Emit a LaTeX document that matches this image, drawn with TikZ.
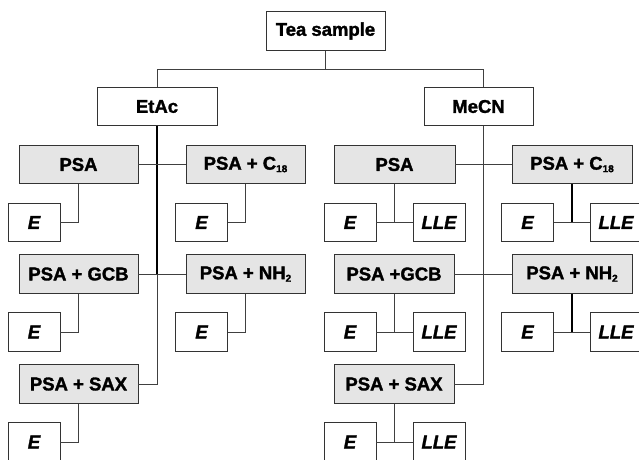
\documentclass[tikz,border=0pt]{standalone}
\usepackage{fontspec}
\setmainfont{Liberation Sans}[BoldFeatures={FakeBold=1.6},BoldItalicFeatures={FakeBold=1.6}]
\newcommand{\sbs}[1]{\raisebox{-2.5pt}{\fontsize{10}{10}\selectfont #1}}
\tikzset{
  base/.style={draw=black!80, line width=0.9pt, inner sep=0pt, minimum height=38.5pt,
    font=\bfseries\fontsize{18.5}{20}\selectfont},
  whitebox/.style={base, fill=white},
  greybox/.style={base, fill=black!10, minimum width=119pt},
  ebox/.style={base, fill=white, minimum width=52pt,
    font=\bfseries\itshape\fontsize{18.5}{20}\selectfont},
  link/.style={draw=black!75, line width=0.9pt},
  trunk/.style={draw=black, line width=1.5pt},
}
\begin{document}
\begin{tikzpicture}[x=1pt,y=-1pt]
\useasboundingbox (0,0) rectangle (639,459);
\clip (0,0) rectangle (639,459);
% top
\node[whitebox, minimum width=119pt] (tea) at (325.5,31) {Tea sample};
\node[whitebox, minimum width=120pt] (etac) at (157,106.5) {EtAc};
\node[whitebox, minimum width=109pt] (mecn) at (478.5,106.5) {MeCN};
\coordinate (jL) at (157,69);
\coordinate (jR) at (483,69);
% left branch
\node[greybox] (L1a) at (78.5,164.5) {PSA};
\node[greybox] (L1b) at (245.5,164.5) {PSA + C\sbs{18}};
\node[greybox] (L2a) at (78.5,274) {PSA + GCB};
\node[greybox] (L2b) at (245.5,274) {PSA + NH\sbs{2}};
\node[greybox] (L3) at (78.5,384) {PSA + SAX};
\node[ebox] (LE1a) at (34,222.5) {E};
\node[ebox] (LE1b) at (201.5,222.5) {E};
\node[ebox] (LE2a) at (34,332) {E};
\node[ebox] (LE2b) at (201.5,332) {E};
\node[ebox] (LE3) at (34,442) {E};
% right branch
\node[greybox, minimum width=121pt] (R1a) at (394.5,164.5) {PSA};
\node[greybox, minimum width=120pt] (R1b) at (572,164.5) {PSA + C\sbs{18}};
\node[greybox, minimum width=120pt] (R2a) at (394,274) {PSA +GCB};
\node[greybox, minimum width=120pt] (R2b) at (572,274) {PSA + NH\sbs{2}};
\node[greybox, minimum width=120pt] (R3) at (394,384) {PSA + SAX};
\node[ebox] (RE1a) at (350,222.5) {E};
\node[ebox] (RL1a) at (439,222.5) {LLE};
\node[ebox] (RE1b) at (527.5,222.5) {E};
\node[ebox] (RL1b) at (616,222.5) {LLE};
\node[ebox] (RE2a) at (350,332) {E};
\node[ebox] (RL2a) at (439,332) {LLE};
\node[ebox] (RE2b) at (527.5,332) {E};
\node[ebox] (RL2b) at (616,332) {LLE};
\node[ebox] (RE3) at (350,442) {E};
\node[ebox] (RL3) at (439,442) {LLE};
% connectors top
\draw[link] (tea.south) -- (tea.south |- jL);
\draw[link] (jL) -- (jR);
\draw[link] (jL) -- (etac.north);
\draw[link] (jR) -- (jR |- mecn.north);
% left trunk
\draw[trunk] (etac.south) -- (etac.south |- L2a.east);
\draw[link] (etac.south |- L2a.east) |- (L3.east);
\draw[link] (L1a.east) -- (L1b.west);
\draw[link] (L2a.east) -- (L2b.west);
\draw[link] (L1a.south) |- (LE1a.east);
\draw[link] (L1b.south) |- (LE1b.east);
\draw[link] (L2a.south) |- (LE2a.east);
\draw[link] (L2b.south) |- (LE2b.east);
\draw[link] (L3.south) |- (LE3.east);
% right trunk
\draw[link] (jR |- mecn.south) |- (R3.east);
\draw[link] (R1a.east) -- (R1b.west);
\draw[link] (R2a.east) -- (R2b.west);
\draw[link] (R1a.south) -- (R1a.south |- RE1a.east);
\draw[link] (RE1a.east) -- (RL1a.west);
\draw[trunk] (R1b.south) -- (R1b.south |- RE1b.east);
\draw[link] (RE1b.east) -- (RL1b.west);
\draw[link] (R2a.south) -- (R2a.south |- RE2a.east);
\draw[link] (RE2a.east) -- (RL2a.west);
\draw[trunk] (R2b.south) -- (R2b.south |- RE2b.east);
\draw[link] (RE2b.east) -- (RL2b.west);
\draw[link] (R3.south) -- (R3.south |- RE3.east);
\draw[link] (RE3.east) -- (RL3.west);
\end{tikzpicture}
\end{document}
